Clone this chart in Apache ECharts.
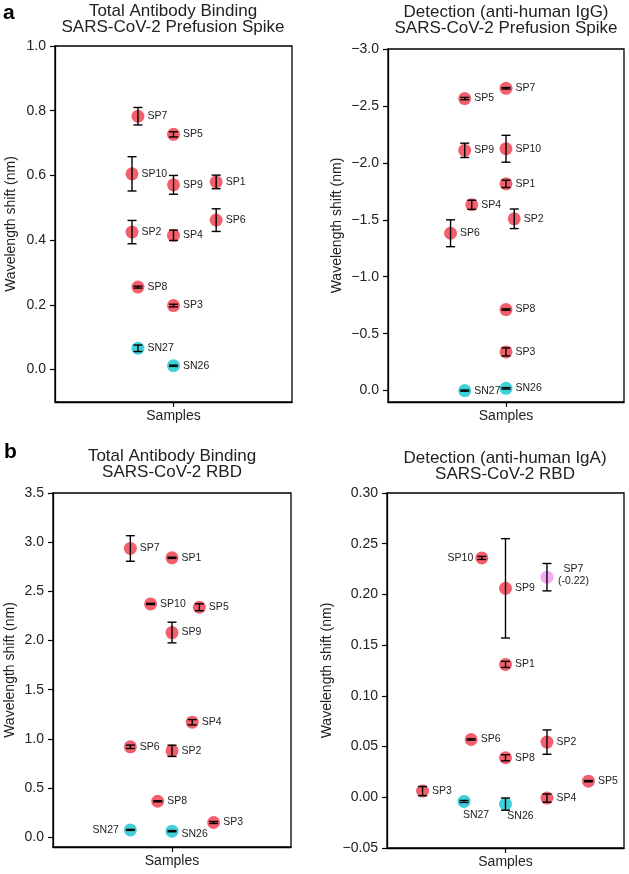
<!DOCTYPE html>
<html><head><meta charset="utf-8">
<script src="https://cdn.jsdelivr.net/npm/echarts@6/dist/echarts.min.js"></script>
<style>html,body{margin:0;padding:0;background:#fff}#c{width:629px;height:874px}</style>
</head><body><div id="c"></div>
<script>
// ---------- Panel a (left): Total Antibody Binding, Prefusion Spike ----------
const aLeftNames = ['SP7','SP5','SP10','SP9','SP1','SP6','SP2','SP4','SP8','SP3','SN27','SN26'];
const aLeftX     = [-0.30, 0, -0.35, 0, 0.36, 0.36, -0.35, 0, -0.30, 0, -0.30, 0];
const aLeftY     = [0.783, 0.727, 0.605, 0.571, 0.580, 0.462, 0.425, 0.415, 0.255, 0.198, 0.066, 0.012];
const aLeftErr   = [0.027, 0.008, 0.053, 0.029, 0.021, 0.035, 0.036, 0.016, 0.003, 0.004, 0.010, 0.002];
const aLeftGroup = ['pos','pos','pos','pos','pos','pos','pos','pos','pos','pos','neg','neg'];
const aLeftTicks = [0, 0.2, 0.4, 0.6, 0.8, 1.0];

// ---------- Panel a (right): Detection anti-human IgG, Prefusion Spike ----------
const aRightNames = ['SP7','SP5','SP9','SP10','SP1','SP4','SP2','SP6','SP8','SP3','SN27','SN26'];
const aRightX     = [0, -0.35, -0.35, 0, 0, -0.29, 0.07, -0.47, 0, 0, -0.35, 0];
const aRightY     = [-2.655, -2.565, -2.110, -2.124, -1.816, -1.632, -1.509, -1.382, -0.712, -0.340, 0.000, -0.020];
const aRightErr   = [0.006, 0.010, 0.063, 0.118, 0.032, 0.040, 0.086, 0.118, 0.006, 0.035, 0.005, 0.006];
const aRightGroup = ['pos','pos','pos','pos','pos','pos','pos','pos','pos','pos','neg','neg'];
const aRightTicks = [-3.0, -2.5, -2.0, -1.5, -1.0, -0.5, 0.0];

// ---------- Panel b (left): Total Antibody Binding, RBD ----------
const bLeftNames = ['SP7','SP1','SP10','SP5','SP9','SP4','SP6','SP2','SP8','SP3','SN27','SN26'];
const bLeftX     = [-0.35, 0, -0.18, 0.23, 0, 0.17, -0.35, 0, -0.12, 0.35, -0.35, 0];
const bLeftY     = [2.936, 2.841, 2.372, 2.338, 2.081, 1.169, 0.919, 0.878, 0.365, 0.149, 0.074, 0.061];
const bLeftErr   = [0.130, 0.006, 0.006, 0.035, 0.105, 0.027, 0.017, 0.057, 0.006, 0.010, 0.005, 0.006];
const bLeftGroup = ['pos','pos','pos','pos','pos','pos','pos','pos','pos','pos','neg','neg'];
const bLeftTicks = [0, 0.5, 1.0, 1.5, 2.0, 2.5, 3.0, 3.5];

// ---------- Panel b (right): Detection anti-human IgA, RBD ----------
const bRightNames = ['SP10','SP9','SP7\n(-0.22)','SP1','SP6','SP2','SP8','SP5','SP3','SN27','SN26','SP4'];
const bRightX     = [-0.20, 0, 0.35, 0, -0.29, 0.35, 0, 0.70, -0.70, -0.35, 0, 0.35];
const bRightY     = [0.236, 0.206, 0.217, 0.131, 0.057, 0.0544, 0.039, 0.0159, 0.0061, -0.0041, -0.0067, -0.0008];
const bRightErr   = [0.0015, 0.049, 0.0135, 0.003, 0.0006, 0.012, 0.003, 0.0006, 0.0045, 0.001, 0.006, 0.004];
const bRightGroup = ['pos','pos','out','pos','pos','pos','pos','pos','pos','neg','neg','pos'];
const bRightTicks = [-0.05, 0.00, 0.05, 0.10, 0.15, 0.20, 0.25, 0.30];

// ---------- styling ----------
const FONT = 'Liberation Sans, Arial, Helvetica, sans-serif';
const COLORS = {pos:'#f3606d', neg:'#3fd0d9', out:'#f5a9f3'};

// per-label placement overrides (panel index -> name -> label opts)
const labelOverrides = {
  2: { 'SN27': {position:'left', distance:5}, 'SN26': {position:'right', offset:[0,3]} },
  3: { 'SP10': {position:'left', distance:2},
       'SN27': {position:'bottom', offset:[12,0], distance:2},
       'SN26': {position:'bottom', offset:[15,-1], distance:1},
       'SP7\n(-0.22)': {position:'right', align:'center', offset:[17,-2], lineHeight:12} }
};

const panels = [
  {names:aLeftNames, xs:aLeftX, ys:aLeftY, errs:aLeftErr, grp:aLeftGroup, ticks:aLeftTicks,
   min:-0.1, max:1.0, dec:1, inverse:false,
   grid:{left:55, top:46, width:237, height:356}, nameGap:37,
   title:['Total Antibody Binding','SARS-CoV-2 Prefusion Spike'], tx:173, ty:3},
  {names:aRightNames, xs:aRightX, ys:aRightY, errs:aRightErr, grp:aRightGroup, ticks:aRightTicks,
   min:-3.0, max:0.1, dec:1, inverse:true,
   grid:{left:388, top:49, width:236, height:353}, nameGap:44,
   title:['Detection (anti-human IgG)','SARS-CoV-2 Prefusion Spike'], tx:506, ty:4},
  {names:bLeftNames, xs:bLeftX, ys:bLeftY, errs:bLeftErr, grp:bLeftGroup, ticks:bLeftTicks,
   min:-0.1, max:3.5, dec:1, inverse:false,
   grid:{left:53, top:493, width:238, height:354}, nameGap:36,
   title:['Total Antibody Binding','SARS-CoV-2 RBD'], tx:172, ty:448},
  {names:bRightNames, xs:bRightX, ys:bRightY, errs:bRightErr, grp:bRightGroup, ticks:bRightTicks,
   min:-0.05, max:0.30, dec:2, inverse:false,
   grid:{left:387, top:493, width:237, height:355}, nameGap:53,
   title:['Detection (anti-human IgA)','SARS-CoV-2 RBD'], tx:505, ty:450}
];

function fmt(v, d){ return (v < -1e-9 ? '\u2212' : '') + Math.abs(v).toFixed(d); }

const grids = [], xAxes = [], yAxes = [], series = [], titles = [];
panels.forEach((p, i) => {
  grids.push(Object.assign({show:true, borderColor:'#000', borderWidth:1.3, backgroundColor:'transparent'}, p.grid));
  xAxes.push({type:'value', gridIndex:i, min:-1, max:1,
    axisLine:{show:true, onZero:false, lineStyle:{color:'#000', width:1.3}},
    axisTick:{show:true, length:5, customValues:[0], lineStyle:{color:'#000', width:1.2}},
    axisLabel:{show:true, customValues:[0], formatter:()=>'Samples', margin:7,
      color:'#222', fontSize:14, fontFamily:FONT},
    splitLine:{show:false}});
  yAxes.push({type:'value', gridIndex:i, min:p.min, max:p.max, inverse:p.inverse,
    name:'Wavelength shift (nm)', nameLocation:'middle', nameGap:p.nameGap,
    nameTextStyle:{color:'#222', fontSize:14, fontFamily:FONT},
    axisLine:{show:true, onZero:false, lineStyle:{color:'#000', width:1.3}},
    axisTick:{show:true, length:5, customValues:p.ticks, lineStyle:{color:'#000', width:1.2}},
    axisLabel:{show:true, customValues:p.ticks, formatter:v=>fmt(v, p.dec), margin:9,
      color:'#222', fontSize:14, fontFamily:FONT},
    splitLine:{show:false}});
  const ov = labelOverrides[i] || {};
  series.push({type:'scatter', xAxisIndex:i, yAxisIndex:i, symbolSize:13, z:2,
    data:p.names.map((n,k)=>{
      const item = {name:n, value:[p.xs[k], p.ys[k]], itemStyle:{color:COLORS[p.grp[k]], opacity:1}};
      if (ov[n]) item.label = ov[n];
      return item;
    }),
    label:{show:true, position:'right', distance:3, formatter:'{b}', color:'#222',
      fontSize:10.5, fontFamily:FONT},
    emphasis:{disabled:true}});
  series.push({type:'custom', xAxisIndex:i, yAxisIndex:i, z:5, silent:true,
    data:p.xs.map((x,k)=>[x, p.ys[k], p.errs[k]]),
    encode:{x:0, y:1},
    renderItem:(params, api)=>{
      const x=api.value(0), y=api.value(1), e=api.value(2);
      const lo=api.coord([x, y-e]), hi=api.coord([x, y+e]);
      const w=4.5, st={stroke:'#000', lineWidth:1.4};
      return {type:'group', children:[
        {type:'line', shape:{x1:lo[0], y1:lo[1], x2:hi[0], y2:hi[1]}, style:st},
        {type:'line', shape:{x1:lo[0]-w, y1:lo[1], x2:lo[0]+w, y2:lo[1]}, style:st},
        {type:'line', shape:{x1:hi[0]-w, y1:hi[1], x2:hi[0]+w, y2:hi[1]}, style:st}
      ]};
    }});
  titles.push({text:p.title.join('\n'), left:p.tx, top:p.ty, textAlign:'center', padding:0,
    textStyle:{color:'#222', fontSize:17, fontWeight:'normal', lineHeight:16.5, fontFamily:FONT}});
});

const chart = echarts.init(document.getElementById('c'), null, {renderer:'canvas'});
chart.setOption({
  animation:false,
  backgroundColor:'#fff',
  title:titles,
  grid:grids, xAxis:xAxes, yAxis:yAxes, series:series,
  graphic:[
    {type:'text', left:3, top:3, style:{text:'a', font:'bold 21px '+FONT, fill:'#000'}},
    {type:'text', left:4, top:442, style:{text:'b', font:'bold 21px '+FONT, fill:'#000'}}
  ]
});
</script>
</body></html>
